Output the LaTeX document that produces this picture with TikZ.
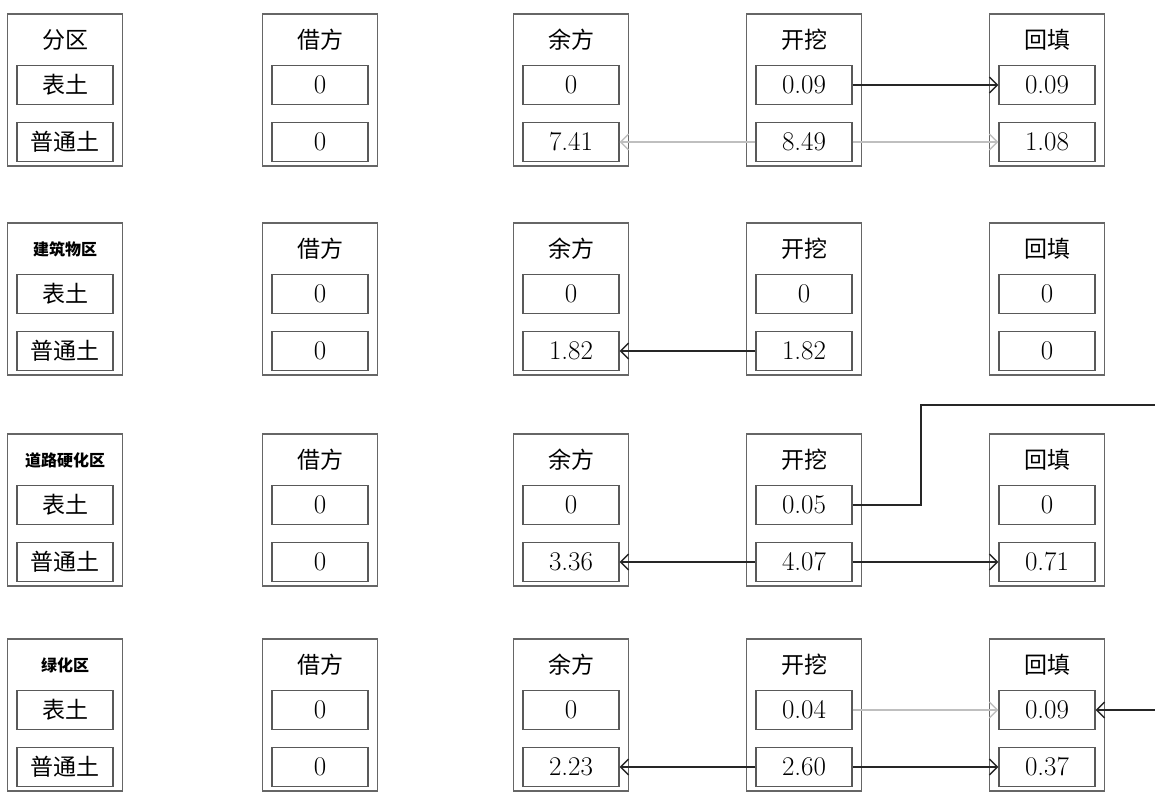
\documentclass[tikz,border=0pt]{standalone}
\usepackage{fontspec}
\newfontfamily\cjk{Noto Sans CJK SC}
\usetikzlibrary{arrows.meta}
\newcommand\myblk[7]{%
  \node[outer] (#1) at ({#2},{#3+76}) {};
  \node[#5] (#1h) at ({#2},{#3+26}) {#4};
  \node[cell] (#1a) at ({#2},{#3+71}) {#6};
  \node[cell] (#1b) at ({#2},{#3+128}) {#7};
}
\begin{document}
\begin{tikzpicture}[x=1pt,y=-1pt,
  outer/.style={draw=black!60,line width=1.4pt,minimum width=115pt,minimum height=152pt,inner sep=0pt},
  cell/.style={draw=black!65,line width=1.4pt,minimum width=96pt,minimum height=39pt,inner sep=0pt,font=\fontsize{27}{27}\selectfont},
  head/.style={font=\cjk\fontsize{23}{23}\selectfont,inner sep=0pt},
  zone/.style={font=\cjk\bfseries\fontsize{16}{16}\selectfont,inner sep=0pt},
  conn/.style={draw=black!85,line width=1.4pt,-{Straight Barb[length=8pt,width=16pt,line width=1.4pt]}},
  faint/.style={conn,draw=black!25},
  plain/.style={draw=black!85,line width=1.4pt}]
\useasboundingbox (0,0) rectangle (1155,792);
% row 1
\myblk{r1c1}{65}{14}{分区}{head}{\cjk\fontsize{23}{23}\selectfont 表土}{\cjk\fontsize{23}{23}\selectfont 普通土}
\myblk{r1c2}{320}{14}{借方}{head}{0}{0}
\myblk{r1c3}{571}{14}{余方}{head}{0}{7.41}
\myblk{r1c4}{804}{14}{开挖}{head}{0.09}{8.49}
\myblk{r1c5}{1047}{14}{回填}{head}{0.09}{1.08}
% row 2
\myblk{r2c1}{65}{223}{建筑物区}{zone}{\cjk\fontsize{23}{23}\selectfont 表土}{\cjk\fontsize{23}{23}\selectfont 普通土}
\myblk{r2c2}{320}{223}{借方}{head}{0}{0}
\myblk{r2c3}{571}{223}{余方}{head}{0}{1.82}
\myblk{r2c4}{804}{223}{开挖}{head}{0}{1.82}
\myblk{r2c5}{1047}{223}{回填}{head}{0}{0}
% row 3
\myblk{r3c1}{65}{434}{道路硬化区}{zone}{\cjk\fontsize{23}{23}\selectfont 表土}{\cjk\fontsize{23}{23}\selectfont 普通土}
\myblk{r3c2}{320}{434}{借方}{head}{0}{0}
\myblk{r3c3}{571}{434}{余方}{head}{0}{3.36}
\myblk{r3c4}{804}{434}{开挖}{head}{0.05}{4.07}
\myblk{r3c5}{1047}{434}{回填}{head}{0}{0.71}
% row 4
\myblk{r4c1}{65}{639}{绿化区}{zone}{\cjk\fontsize{23}{23}\selectfont 表土}{\cjk\fontsize{23}{23}\selectfont 普通土}
\myblk{r4c2}{320}{639}{借方}{head}{0}{0}
\myblk{r4c3}{571}{639}{余方}{head}{0}{2.23}
\myblk{r4c4}{804}{639}{开挖}{head}{0.04}{2.60}
\myblk{r4c5}{1047}{639}{回填}{head}{0.09}{0.37}
% connectors
\draw[conn] (r1c4a.east) -- (r1c5a.west);
\draw[faint] (r1c4b.west) -- (r1c3b.east);
\draw[faint] (r1c4b.east) -- (r1c5b.west);
\draw[conn] (r2c4b.west) -- (r2c3b.east);
\coordinate (k1) at (921,405);
\coordinate (e1) at (1155,405);
\draw[plain] (r3c4a.east) -| (k1) -- (e1);
\draw[conn] (r3c4b.west) -- (r3c3b.east);
\draw[conn] (r3c4b.east) -- (r3c5b.west);
\draw[faint] (r4c4a.east) -- (r4c5a.west);
\coordinate (e2) at (1155,710);
\draw[conn] (e2) -- (r4c5a.east);
\draw[conn] (r4c4b.west) -- (r4c3b.east);
\draw[conn] (r4c4b.east) -- (r4c5b.west);
\end{tikzpicture}
\end{document}
